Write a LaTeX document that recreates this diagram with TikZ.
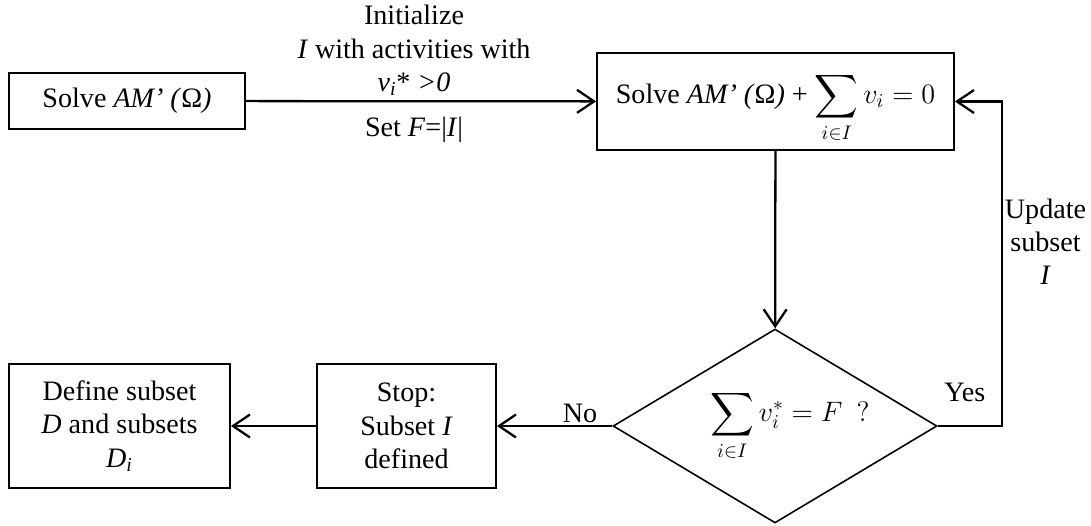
\RequirePackage{fix-cm}
\documentclass[tikz,border=0pt]{standalone}
\usepackage{amsmath}
\usepackage{fontspec}
\setmainfont{Liberation Serif}
\usepackage{tikz}
\usetikzlibrary{arrows,arrows.meta,positioning,shapes.geometric}

\begin{document}
\begin{tikzpicture}[x=0.02cm,y=-0.02cm,font=\fontsize{16}{19}\selectfont,
  >={Straight Barb[length=0.34cm,width=0.46cm]},
  block/.style={draw,line width=1.1pt,align=center,inner sep=1pt},
  flow/.style={->,line width=1.3pt}]
\useasboundingbox (0,0) rectangle (1091,525);
\node[block,minimum width=4.72cm,minimum height=1.12cm] (solve) at (127,101) {Solve \textit{AM’ (}Ω\textit{)}};
\node[block,minimum width=7.14cm,minimum height=1.94cm] (resolve) at (775.5,101.5) {\raisebox{-0.12cm}[\height][\depth]{Solve \textit{AM’ (}Ω\textit{)} + $\displaystyle\sum_{i\in I} v_i = 0$}};
\node[draw,diamond,aspect=1.66,line width=0.9pt,minimum width=6.48cm,minimum height=3.88cm,inner sep=0pt] (check) at (775,426) {\hspace*{0.6cm}$\displaystyle\sum_{i\in I} v_i^* = F\ \ ?$};
\node[block,minimum width=3.58cm,minimum height=2.48cm] (stop) at (406.5,426) {Stop:\\Subset \textit{I}\\defined};
\node[block,minimum width=4.42cm,minimum height=2.48cm] (define) at (119.5,426) {Define subset\\\textit{D} and subsets\\\textit{D}\textsubscript{\textit{i}}};
\coordinate (turn) at (1002,426);
%\draw (0,0) node {};
\draw[flow] (solve) -- node[above,pos=.48,align=center,inner sep=2.5pt]{Initialize\\\textit{I} with activities with\\\textit{v}\textsubscript{\textit{i}}* \textit{>0}} node[below=5pt,pos=.48]{Set \textit{F}=|\textit{I}|} (resolve);
\draw[flow] (resolve) -- (check);
\draw[flow] (check) -- node[above,pos=.28,inner sep=1pt]{No} (stop);
\draw[flow] (stop) -- (define);
\draw[flow] (check.east) -- node[above=10pt,pos=.42]{Yes} (turn) |- node[right,pos=.284,align=center,inner sep=1pt]{Update\\subset\\\textit{I}} (resolve.east);
\end{tikzpicture}
\end{document}
